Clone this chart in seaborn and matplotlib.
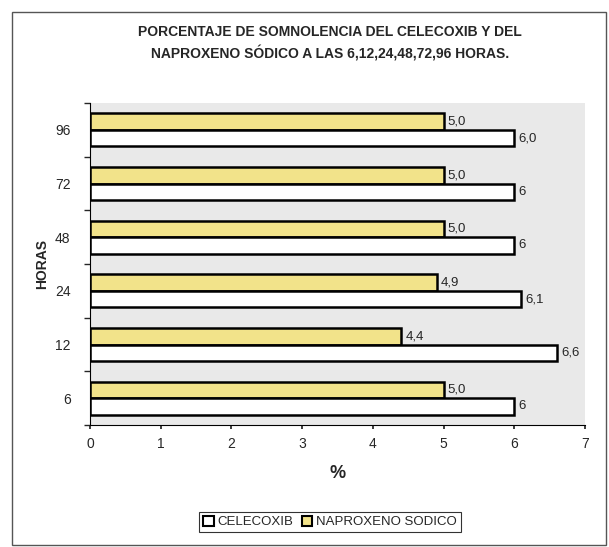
import matplotlib
matplotlib.use("Agg")
import matplotlib.pyplot as plt
import seaborn as sns
import pandas as pd
from matplotlib.patches import Rectangle, Patch

horas = ["96", "72", "48", "24", "12", "6"]
celecoxib = [6.0, 6.0, 6.0, 6.1, 6.6, 6.0]
naproxeno = [5.0, 5.0, 5.0, 4.9, 4.4, 5.0]
lab_cel = ["6,0", "6", "6", "6,1", "6,6", "6"]
lab_nap = ["5,0", "5,0", "5,0", "4,9", "4,4", "5,0"]
series = ["NAPROXENO SODICO", "CELECOXIB"]
title = "PORCENTAJE DE SOMNOLENCIA DEL CELECOXIB Y DEL\nNAPROXENO SÓDICO A LAS 6,12,24,48,72,96 HORAS."

sns.set_theme(style="white")
plt.rcParams['font.family'] = ['Liberation Sans', 'DejaVu Sans']

df = pd.DataFrame({
    "HORAS": horas * 2,
    "valor": naproxeno + celecoxib,
    "serie": [series[0]] * len(horas) + [series[1]] * len(horas),
})

fig = plt.figure(figsize=(6.09, 5.47), dpi=100)
ax = fig.add_axes([90/609, 1-425/547, 495/609, 322/547])
ax.set_facecolor("#e9e9e9")

colors = {"NAPROXENO SODICO": "#f2e38a", "CELECOXIB": "#ffffff"}
sns.barplot(data=df, x="valor", y="HORAS", hue="serie", order=horas,
            hue_order=series, palette=colors, orient="h", width=0.62,
            saturation=1, edgecolor="black", linewidth=1.8, ax=ax, legend=False)

labels = {series[0]: lab_nap, series[1]: lab_cel}
for cont, s in zip(ax.containers, series):
    ax.bar_label(cont, labels=labels[s], padding=3, fontsize=9.5)

ax.set_xlim(0, 7)
ax.set_xticks(range(8))
ax.set_ylim(5.5, -0.5)
ax.set_yticks([i for i in range(6)])
ax.set_yticklabels(horas)
ax.tick_params(axis="y", length=0, labelsize=10, pad=14)
ax.tick_params(axis="x", labelsize=10, length=3, direction="out", bottom=True, pad=6)
ax.set_yticks([i + 0.5 for i in range(-1, 6)], minor=True)
ax.tick_params(axis="y", which="minor", length=4, direction="out", left=True)
for sp in ["top", "right"]:
    ax.spines[sp].set_visible(False)
ax.spines["left"].set_color("black")
ax.spines["bottom"].set_color("black")
ax.spines["left"].set_linewidth(0.8)
ax.spines["bottom"].set_linewidth(0.8)

ax.set_xlabel("%", fontsize=13, fontweight="bold", labelpad=10)
ax.set_ylabel("HORAS", fontsize=10, fontweight="bold", labelpad=4)

fig.text(330/609, 1-43/547, title, ha="center", va="center",
         fontsize=10, fontweight="bold", linespacing=1.5)

handles = [Patch(facecolor=colors[series[1]], edgecolor="black", linewidth=1.5, label=series[1]),
           Patch(facecolor=colors[series[0]], edgecolor="black", linewidth=1.5, label=series[0])]
leg = fig.legend(handles=handles, loc="center", bbox_to_anchor=(330/609, 1-522/547),
                 ncol=2, frameon=True, fontsize=9.5, handlelength=0.8, handleheight=0.8,
                 handletextpad=0.3, columnspacing=0.6, borderpad=0.3, fancybox=False)
leg.get_frame().set_edgecolor("black")
leg.get_frame().set_linewidth(0.8)

fig.patches.append(Rectangle((12/609, 2/547), 594/609, 533/547, transform=fig.transFigure,
                             fill=False, edgecolor="#555555", linewidth=1.0))

fig.savefig("out.png", dpi=100)
